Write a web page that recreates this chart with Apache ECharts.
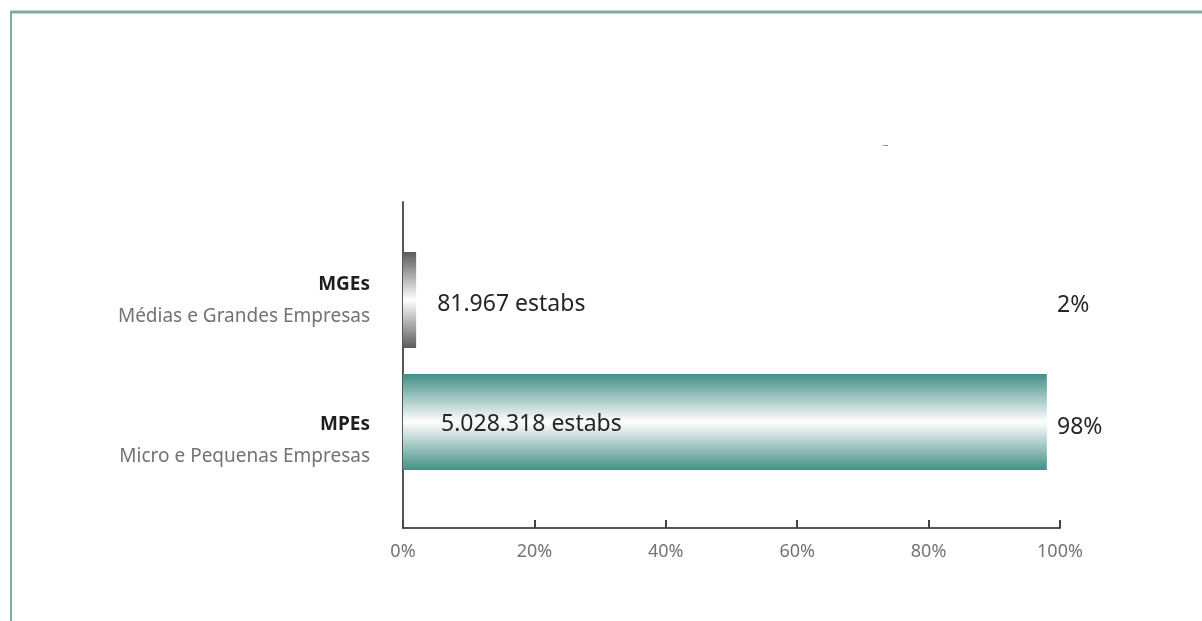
<!DOCTYPE html>
<html>
<head>
<meta charset="utf-8">
<script src="https://cdn.jsdelivr.net/npm/echarts@6/dist/echarts.min.js"></script>
<style>
html,body{margin:0;padding:0;background:#fff;}
#c{width:1202px;height:621px;}
</style>
</head>
<body>
<div id="c"></div>
<script>
const categories = ['MGEs', 'MPEs'];
const subtitles = ['Médias e Grandes Empresas', 'Micro e Pequenas Empresas'];
const shares = [2, 98];
const counts = ['81.967', '5.028.318'];
const xTicks = [0, 20, 40, 60, 80, 100];

const chart = echarts.init(document.getElementById('c'), null, {renderer: 'canvas'});
const FONT = 'Noto Sans';

const gradGray = new echarts.graphic.LinearGradient(0, 0, 0, 1, [
  {offset: 0, color: '#5a5a5a'},
  {offset: 0.5, color: '#ffffff'},
  {offset: 1, color: '#5a5a5a'}
]);
const gradTeal = new echarts.graphic.LinearGradient(0, 0, 0, 1, [
  {offset: 0, color: '#438f87'},
  {offset: 0.5, color: '#ffffff'},
  {offset: 1, color: '#438f87'}
]);

const barData = shares.map((v, i) => ({
  value: v,
  itemStyle: {color: i === 0 ? gradGray : gradTeal},
  label: i === 0
    ? {position: 'right', distance: 21, offset: [0, 4]}
    : {position: 'insideLeft', distance: 38, offset: [0, 2]}
}));

const option = {
  animation: false,
  backgroundColor: '#ffffff',
  textStyle: {fontFamily: FONT},
  graphic: [
    {type: 'line', shape: {x1: 10, y1: 12, x2: 1202, y2: 12}, style: {stroke: '#79aea6', lineWidth: 3}, silent: true},
    {type: 'line', shape: {x1: 11, y1: 11, x2: 11, y2: 621}, style: {stroke: '#79aea6', lineWidth: 2}, silent: true},
    {type: 'line', shape: {x1: 883, y1: 145.5, x2: 888, y2: 145.5}, style: {stroke: '#7aa9a3', lineWidth: 1}, silent: true}
  ],
  grid: [
    {left: 403, right: 142, top: 202, bottom: 93},
    {left: 403, right: 142, top: 239, height: 244}
  ],
  xAxis: [
    {
      gridIndex: 0, type: 'value', min: xTicks[0], max: xTicks[xTicks.length - 1], interval: 20,
      axisLine: {show: true, lineStyle: {color: '#555', width: 2}},
      axisTick: {show: true, inside: true, length: 8, lineStyle: {color: '#444', width: 2}},
      splitLine: {show: false},
      axisLabel: {formatter: '{value}%', color: '#747474', fontSize: 18, margin: 15, fontFamily: FONT}
    },
    {
      gridIndex: 1, type: 'value', min: 0, max: 100, show: false
    }
  ],
  yAxis: [
    {
      gridIndex: 0, type: 'value', min: 0, max: 1,
      axisLine: {show: true, lineStyle: {color: '#555', width: 2}},
      axisTick: {show: false}, axisLabel: {show: false}, splitLine: {show: false}
    },
    {
      gridIndex: 1, type: 'category', inverse: true,
      data: categories.map((c, i) => i === 0 ? {value: c, textStyle: {padding: [2, 0, 0, 0]}} : {value: c, textStyle: {padding: [38, 0, 0, 0]}}),
      axisLine: {show: false}, axisTick: {show: false}, splitLine: {show: false},
      axisLabel: {
        margin: 33,
        align: 'right',
        formatter: (v, i) => '{t|' + v + '}\n{s|' + subtitles[i] + '}',
        rich: {
          t: {fontFamily: FONT, fontSize: 19, fontWeight: 'bold', color: '#1e1e1e', lineHeight: 32, align: 'right'},
          s: {fontFamily: FONT, fontSize: 19, color: '#727272', lineHeight: 32, align: 'right'}
        }
      }
    },
    {
      gridIndex: 1, type: 'category', inverse: true, position: 'right',
      data: shares.map(v => v + '%'),
      axisLine: {show: false}, axisTick: {show: false}, splitLine: {show: false},
      axisLabel: {
        margin: -3,
        formatter: v => '{p|' + v + '}',
        rich: {p: {color: '#262626', fontSize: 23, fontFamily: FONT, padding: [10, 0, 0, 0]}}
      }
    }
  ],
  series: [
    {
      type: 'bar', xAxisIndex: 1, yAxisIndex: 1,
      data: barData,
      barWidth: 96,
      label: {
        show: true,
        color: '#262626', fontSize: 23, fontFamily: FONT,
        formatter: p => counts[p.dataIndex] + ' estabs'
      }
    }
  ]
};
chart.setOption(option);
</script>
</body>
</html>
